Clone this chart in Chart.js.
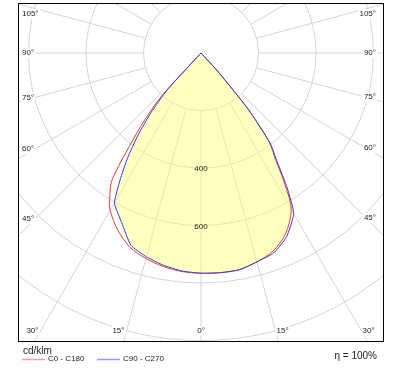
<!DOCTYPE html>
<html lang="en">
<head>
<meta charset="UTF-8">
<title>Luminous intensity distribution</title>
<script src="https://cdn.jsdelivr.net/npm/chart.js@4.4.1/dist/chart.umd.min.js"></script>
<style>
    body { margin: 0; background: #fff; }
    canvas { display: block; }
</style>
</head>
<body>
<canvas id="polar" width="401" height="371"></canvas>
<script>
const gammas = [0, 5, 10, 15, 20, 25, 30, 32.5, 35, 37.5, 40, 42.5, 45];
// intensities in cd/klm, one array per half plane
const c0   = [766, 767, 765, 752, 733, 695, 628, 545, 452, 388, 250, 80, 0];
const c180 = [766, 763, 754, 740, 720, 682, 632, 590, 540, 410, 305, 200, 0];
const c90  = [766, 767, 766, 752, 740, 705, 645, 560, 462, 395, 258, 90, 0];
const c270 = [766, 761, 750, 734, 712, 652, 602, 524, 445, 360, 270, 175, 0];

const ringValues = [200, 400, 600, 800, 1000, 1200];
const ringLabels = ['400', '600'];
const angleTicks = [0, 15, 30, 45, 60, 75, 90, 105];
const seriesNames = ['C0 - C180', 'C90 - C270'];
const seriesColors = ['rgb(232,62,48)', 'rgb(58,58,222)'];
const unitLabel = 'cd/klm';
const efficiencyLabel = 'η = 100%';

// visible window of the diagram, in cd/klm
const xRange = [-636.5, 633];
const yRange = [-1001.7, 173.9];

function toXY(g, v, side) {
    const a = g * Math.PI / 180;
    return { x: side * v * Math.sin(a), y: -v * Math.cos(a) };
}

// left half goes from the top down to nadir, right half back up
function planeCurve(right, left) {
    const pts = [];
    for (let i = gammas.length - 1; i >= 0; i--) pts.push(toXY(gammas[i], left[i], -1));
    for (let i = 1; i < gammas.length; i++) pts.push(toXY(gammas[i], right[i], 1));
    return pts;
}

const minOf = (a, b) => a.map((v, i) => Math.min(v, b[i]));

const polarGrid = {
    id: 'polarGrid',
    beforeDatasetsDraw(chart) {
        const { ctx, chartArea: a, scales: { x, y } } = chart;
        const cx = x.getPixelForValue(0), cy = y.getPixelForValue(0);
        ctx.save();
        ctx.beginPath();
        ctx.rect(a.left, a.top, a.right - a.left, a.bottom - a.top);
        ctx.clip();
        ctx.strokeStyle = '#d4d4d4';
        ctx.lineWidth = 1;
        ringValues.forEach(v => {
            ctx.beginPath();
            ctx.arc(cx, cy, x.getPixelForValue(v) - cx, 0, Math.PI * 2);
            ctx.stroke();
        });
        const step = angleTicks[1] - angleTicks[0];
        const r0 = ringValues[0], r1 = ringValues[ringValues.length - 1] * 1.5;
        for (let g = 0; g < 360; g += step) {
            const p = toXY(g, r0, 1), q = toXY(g, r1, 1);
            ctx.beginPath();
            ctx.moveTo(x.getPixelForValue(p.x), y.getPixelForValue(p.y));
            ctx.lineTo(x.getPixelForValue(q.x), y.getPixelForValue(q.y));
            ctx.stroke();
        }
        ctx.restore();
    },
    afterDatasetsDraw(chart) {
        const { ctx, chartArea: a, scales: { x, y } } = chart;
        const cx = x.getPixelForValue(0), cy = y.getPixelForValue(0);
        ctx.save();
        ctx.font = '8px "Liberation Sans", Arial, sans-serif';
        ctx.textBaseline = 'middle';

        // angle labels where the spokes reach the frame
        angleTicks.forEach(g => {
            [-1, 1].forEach(side => {
                if (g === 0 && side === 1) return;
                const txt = g + '°';
                const w = ctx.measureText(txt).width;
                const rad = g * Math.PI / 180;
                const xEdge = side < 0 ? a.left + 17 : a.right - 17;
                let ly = cy + Math.abs(xEdge - cx) / Math.tan(rad);
                let lx;
                if (!(ly < a.bottom - 10)) {
                    ly = a.bottom - 10;
                    const bx = cx + side * (ly - cy) * Math.tan(rad);
                    if (g === 0) lx = bx - w / 2;
                    else lx = side < 0 ? bx - 2 - w : bx + 1;
                } else {
                    ly = Math.max(ly, a.top + 11);
                    lx = side < 0 ? a.left + 4 : a.right - 7 - w;
                }
                ctx.fillStyle = '#fff';
                ctx.fillRect(lx - 1, ly - 5, w + 2, 10);
                ctx.fillStyle = '#222';
                ctx.textAlign = 'left';
                ctx.fillText(txt, lx, ly);
            });
        });

        // intensity labels on the nadir spoke
        ctx.textAlign = 'center';
        ctx.fillStyle = '#222';
        ringLabels.forEach(s => {
            ctx.fillText(s, cx, y.getPixelForValue(-Number(s)) + 1);
        });

        // frame
        ctx.strokeStyle = '#000';
        ctx.lineWidth = 1;
        ctx.strokeRect(a.left + 0.5, a.top + 0.5, a.right - a.left, a.bottom - a.top);
        ctx.restore();
    },
    afterDraw(chart) {
        const { ctx, chartArea: a } = chart;
        ctx.save();
        ctx.textBaseline = 'middle';
        ctx.fillStyle = '#222';
        ctx.font = '10px "Liberation Sans", Arial, sans-serif';
        ctx.textAlign = 'left';
        ctx.fillText(unitLabel, a.left + 5, a.bottom + 10);
        ctx.textAlign = 'right';
        ctx.fillText(efficiencyLabel, a.right - 6, a.bottom + 15);

        ctx.font = '8px "Liberation Sans", Arial, sans-serif';
        ctx.textAlign = 'left';
        let lx = a.left + 4;
        const ly = a.bottom + 18;
        seriesNames.forEach((name, i) => {
            ctx.globalAlpha = 0.5;
            ctx.strokeStyle = seriesColors[i];
            ctx.lineWidth = 1.5;
            ctx.beginPath();
            ctx.moveTo(lx, ly + 0.5);
            ctx.lineTo(lx + 23, ly + 0.5);
            ctx.stroke();
            ctx.globalAlpha = 1;
            ctx.fillText(name, lx + 26, ly);
            lx += 75;
        });
        ctx.restore();
    }
};

const lineStyle = { showLine: true, pointRadius: 0, borderWidth: 1, tension: 0, fill: false };

new Chart(document.getElementById('polar'), {
    type: 'scatter',
    data: {
        datasets: [
            { ...lineStyle, label: seriesNames[1], data: planeCurve(c90, c270), borderColor: seriesColors[1], tension: 0.15 },
            { ...lineStyle, label: seriesNames[0], data: planeCurve(c0, c180), borderColor: seriesColors[0], tension: 0.3 },
            {
                ...lineStyle, label: 'area', data: planeCurve(minOf(c0, c90), minOf(c180, c270)),
                borderWidth: 0, borderColor: 'rgba(0,0,0,0)', tension: 0.2,
                backgroundColor: 'rgba(255,255,120,0.45)', fill: 'shape'
            }
        ]
    },
    options: {
        responsive: false,
        animation: false,
        devicePixelRatio: 1,
        layout: { padding: { left: 18, top: 3, right: 18, bottom: 30 } },
        scales: {
            x: { type: 'linear', display: false, min: xRange[0], max: xRange[1] },
            y: { type: 'linear', display: false, min: yRange[0], max: yRange[1] }
        },
        plugins: { legend: { display: false }, tooltip: { enabled: false } }
    },
    plugins: [polarGrid]
});
</script>
</body>
</html>
